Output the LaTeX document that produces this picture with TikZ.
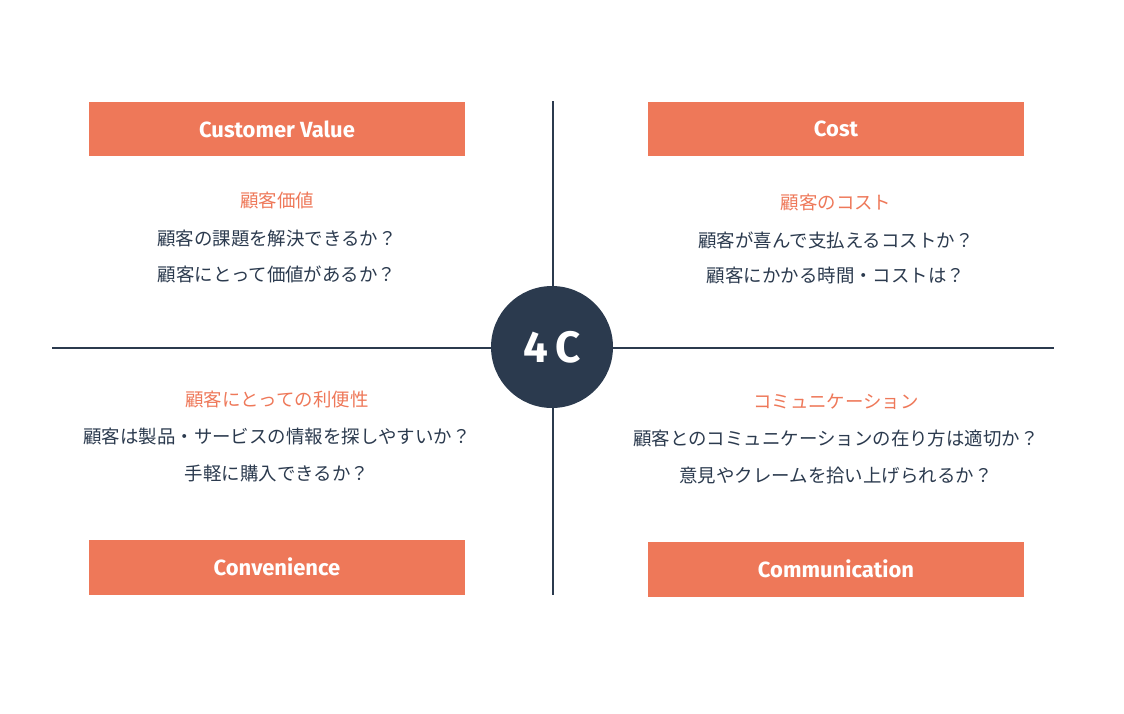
\documentclass[tikz,border=0pt]{standalone}
\usepackage{fontspec}
\setmainfont{Noto Sans CJK JP}
\newfontfamily\headfont{Fira Sans}[FontFace={sb}{n}{Font=* SemiBold}]
\definecolor{navy}{HTML}{2B3A4E}
\definecolor{coral}{HTML}{EE7859}
\tikzset{headbox/.style={
  rectangle,fill=coral,text=white,
  minimum width=7.52cm,minimum height=1.1cm,
  font=\headfont\bfseries\fontsize{12.5}{14}\selectfont}}
\tikzset{subtitle/.style={text=coral,font=\fontsize{10.5}{12}\selectfont}}
\tikzset{body/.style={text=navy,font=\fontsize{10.5}{12}\selectfont}}

\begin{document}
\begin{tikzpicture}[x={(0.02cm,0cm)},y={(0cm,-0.02cm)}]
  \useasboundingbox (0,0) rectangle (1124,713);
  \coordinate (top) at (553,101);
  \coordinate (bottom) at (553,595);
  \coordinate (left) at (52,348);
  \coordinate (right) at (1054,348);
  \draw[navy,line width=1.2pt] (top) -- (bottom);
  \draw[navy,line width=1.2pt] (left) -- (right);
  \node[circle,fill=navy,minimum size=2.44cm,text=white,
    font=\headfont\bfseries\fontsize{25}{28}\selectfont] (fourc) at (552,347) {4\,C};
  \foreach \n/\p/\l in {
      value/{(277,129)}/{Customer Value},
      cost/{(836,129)}/{Cost},
      conv/{(277,567)}/{Convenience},
      comm/{(836,569)}/{Communication} }
    \node[headbox] (\n) at \p {\l};
  \foreach \n/\p/\l in {
      vt/{(277,201)}/{顧客価値},
      ct/{(836,203)}/{顧客のコスト},
      nt/{(277,400)}/{顧客にとっての利便性},
      mt/{(836,402)}/{コミュニケーション} }
    \node[subtitle] (\n) at \p {\l};
  \foreach \n/\p/\l in {
      va/{(277,239)}/{顧客の課題を解決できるか？},
      vb/{(277,274)}/{顧客にとって価値があるか？},
      ca/{(836,240)}/{顧客が喜んで支払えるコストか？},
      cb/{(836,275)}/{顧客にかかる時間・コストは？},
      na/{(277,437)}/{顧客は製品・サービスの情報を探しやすいか？},
      nb/{(277,473)}/{手軽に購入できるか？},
      ma/{(836,438)}/{顧客とのコミュニケーションの在り方は適切か？},
      mb/{(836,475)}/{意見やクレームを拾い上げられるか？} }
    \node[body] (\n) at \p {\l};
\end{tikzpicture}
\end{document}
